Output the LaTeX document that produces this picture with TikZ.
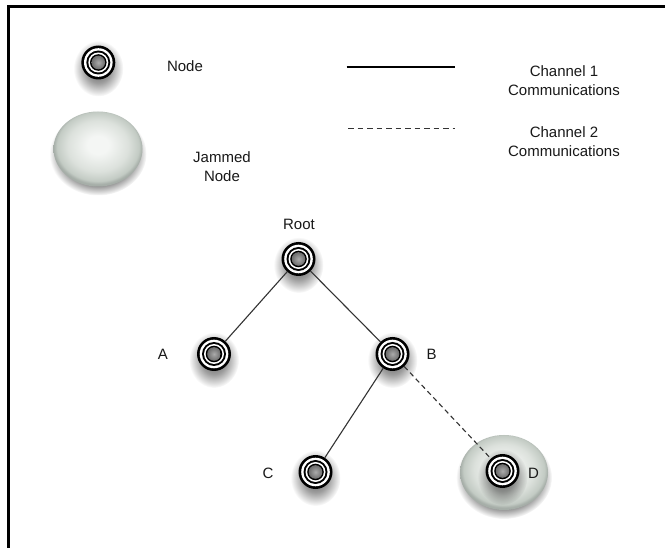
\documentclass[tikz,border=0pt]{standalone}
\usepackage{fontspec}
\setmainfont{Liberation Sans}
\usetikzlibrary{fadings}
\definecolor{jw}{HTML}{F4F6F4}
\definecolor{jone}{HTML}{DCE1DC}
\definecolor{jtwo}{HTML}{C3CBC4}
\definecolor{jthree}{HTML}{A6AEA8}
\definecolor{hubone}{HTML}{ABABAB}
\definecolor{hubtwo}{HTML}{6C6C6C}
\definecolor{linec}{HTML}{333333}
\pgfdeclareradialshading{jamshade}{\pgfpoint{0bp}{3bp}}{color(0bp)=(jw); color(6bp)=(jw); color(17bp)=(jone); color(23bp)=(jtwo); color(25bp)=(jthree); color(50bp)=(jthree)}
\pgfdeclareradialshading{hubshade}{\pgfpoint{0bp}{0bp}}{color(0bp)=(hubone); color(25bp)=(hubtwo); color(50bp)=(hubtwo)}
\pgfdeclareradialshading{hubfadeshade}{\pgfpoint{0bp}{0bp}}{color(0bp)=(transparent!35); color(13bp)=(transparent!62); color(25bp)=(transparent!100); color(50bp)=(transparent!100)}
\pgfdeclarefading{hubfade}{\pgfuseshading{hubfadeshade}}
\pgfdeclareradialshading{jamfadeshade}{\pgfpoint{0bp}{0bp}}{color(0bp)=(transparent!45); color(19bp)=(transparent!58); color(25bp)=(transparent!100); color(50bp)=(transparent!100)}
\pgfdeclarefading{jamfade}{\pgfuseshading{jamfadeshade}}
\pgfdeclarelayer{back}
\pgfsetlayers{back,main}
\tikzset{
  hub/.style={circle, minimum size=34pt, inner sep=0pt, outer sep=0pt, fill=black,
    path picture={
      \fill[white] (path picture bounding box.center) circle (14.3pt);
      \fill[black] (path picture bounding box.center) circle (12pt);
      \fill[white] (path picture bounding box.center) circle (10pt);
      \fill[black] (path picture bounding box.center) circle (8.3pt);
      \shade[shading=hubshade] (path picture bounding box.center) circle (6.8pt);
    }},
  hubshadow/.style={fill=black, path fading=hubfade},
  jamshadow/.style={fill=black, path fading=jamfade},
  jamfill/.style={shading=jamshade},
  txt/.style={font=\fontsize{15}{19}\selectfont, text=black!90, inner sep=0pt, align=center},
  link/.style={draw=linec, line width=1.1pt},
  jamlink/.style={draw=linec, line width=1.1pt, dash pattern=on 5pt off 3.5pt},
}
\begin{document}
\begin{tikzpicture}[x=1pt, y=-1pt]
\useasboundingbox (0,0) rectangle (665,548);
% frame
\draw[line width=3pt, black] (8.5,548) -- (8.5,6.5) -- (665,6.5);

% hub nodes
\node[hub] (legnode) at (98.3,62.5) {};
\node[hub] (root) at (298.5,259) {};
\node[hub] (a) at (214,354) {};
\node[hub] (b) at (392.5,354) {};
\node[hub] (c) at (315.5,472) {};
\node[hub] (d) at (502.5,471) {};

% background: jammed auras and shadows
\begin{pgfonlayer}{back}
  \fill[white] (0,0) rectangle (665,548);
  \fill[jamshadow] (98,154) ellipse (48.5 and 41.5);
  \shade[jamfill] (98,149) ellipse (44.5 and 37.5);
  \fill[jamshadow] (504,477.5) ellipse (48 and 41.5);
  \shade[jamfill] (504,472.5) ellipse (44 and 37.5);
  \foreach \n in {legnode,root,a,b,c,d}{
    \fill[hubshadow] ([yshift=-6pt]\n.center) ellipse (25pt and 28pt);
  }
\end{pgfonlayer}

% texts
\node[txt] (tnode) at (185,66) {Node};
\node[txt] (tjam) at (222,167) {Jammed\\Node};
\node[txt] (tch1) at (564,81) {Channel 1\\Communications};
\node[txt] (tch2) at (564,141.7) {Channel 2\\Communications};
\node[txt] (lroot) at (299,224) {Root};
\node[txt] (la) at (163,354) {A};
\node[txt] (lb) at (431.7,354) {B};
\node[txt] (lc) at (268,473) {C};
\node[txt] (ld) at (533.5,473) {D};

% legend lines
\coordinate (s1) at (346.5,67);
\coordinate (s2) at (455,67);
\coordinate (d1) at (348,128.3);
\coordinate (d2) at (455,128.3);
\draw[draw=black, line width=1.4pt] (s1) -- (s2);
\draw[draw=linec, line width=1pt, dash pattern=on 5.5pt off 4pt] (d1) -- (d2);

% tree connectors
\draw[link] (root) -- (a);
\draw[link] (root) -- (b);
\draw[link] (b) -- (c);
\draw[jamlink] (b) -- (d);
\end{tikzpicture}
\end{document}
